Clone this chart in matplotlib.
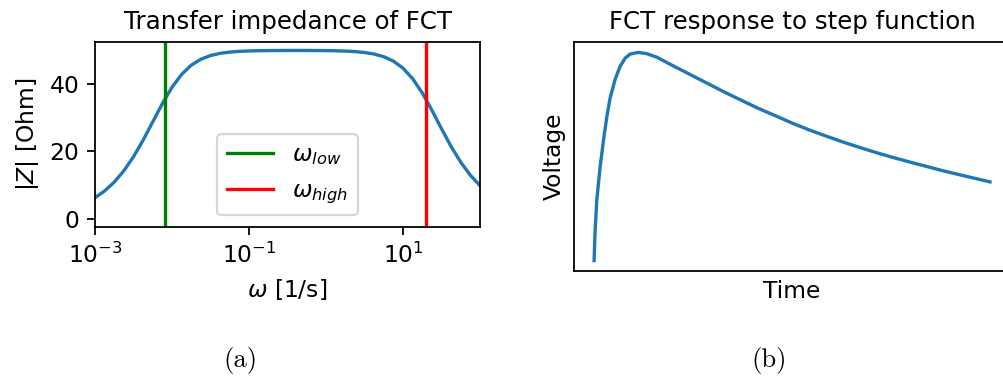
import matplotlib
matplotlib.use("Agg")
import matplotlib.pyplot as plt
from matplotlib.ticker import NullLocator

plt.rcParams['font.size'] = 10.5

# |Z| of the current transformer vs. angular frequency
omega = [0.001, 0.001334, 0.001778, 0.002371, 0.003162, 0.004217, 0.005623,
         0.0075, 0.01, 0.01334, 0.01778, 0.02371, 0.03162, 0.04217, 0.05623,
         0.075, 0.1, 0.1334, 0.1778, 0.3162, 0.5623, 0.75, 1.0, 1.334, 1.778,
         2.371, 3.162, 4.217, 5.623, 7.499, 10.0, 13.34, 17.78, 23.71, 31.62,
         42.17, 56.23, 74.99, 100.0]
z_abs = [6.20, 8.22, 10.85, 14.21, 18.38, 23.32, 28.75,
         34.20, 39.04, 42.88, 45.60, 47.38, 48.47, 49.13, 49.50,
         49.72, 49.84, 49.91, 49.95, 49.98, 49.98, 49.96, 49.94, 49.89, 49.80,
         49.65, 49.39, 48.92, 48.13, 46.82, 44.72, 41.60, 37.37, 32.24, 26.73,
         21.43, 16.76, 12.88, 9.81]
omega_low = 0.008
omega_high = 20.0

# step response (arbitrary units)
t = [0.0, 0.025, 0.068, 0.152, 0.235, 0.321, 0.404, 0.530, 0.657, 0.783,
     0.909, 1.119, 1.331, 1.583, 2.003, 2.424, 2.846, 3.265, 3.687, 4.149,
     4.614, 5.033, 5.455, 5.876, 6.295, 6.717, 7.139, 7.558, 7.980, 8.402,
     8.821, 9.242, 9.664, 10.0]
voltage = [0.0, 0.14, 0.29, 0.45, 0.575, 0.69, 0.78, 0.870, 0.933, 0.972,
           0.992, 1.0, 0.994, 0.977, 0.935, 0.894, 0.853, 0.812, 0.773, 0.731,
           0.693, 0.658, 0.626, 0.597, 0.569, 0.543, 0.518, 0.495, 0.473, 0.452,
           0.431, 0.412, 0.393, 0.378]

fig = plt.figure(figsize=(1003 / 160, 378 / 160), dpi=160)

ax1 = fig.add_axes([95 / 1003, 1 - 227 / 378, 385 / 1003, 185 / 378])
ax1.plot(omega, z_abs, color='#1f77b4', lw=1.5)
ax1.axvline(omega_low, color='green', lw=1.5, label=r'$\omega_{low}$')
ax1.axvline(omega_high, color='red', lw=1.5, label=r'$\omega_{high}$')
ax1.set_xscale('log')
ax1.set_xlim(1e-3, 1e2)
ax1.set_ylim(-2.5, 52.5)
ax1.set_xticks([1e-3, 1e-1, 1e1])
ax1.xaxis.set_minor_locator(NullLocator())
ax1.set_yticks([0, 20, 40])
ax1.set_xlabel(r'$\omega$ [1/s]')
ax1.set_ylabel(r'$|Z|$ [Ohm]')
ax1.set_title('Transfer impedance of FCT', fontsize=11)
ax1.legend(loc='lower center')

ax2 = fig.add_axes([574.3 / 1003, 1 - 271 / 378, 435.5 / 1003, 229 / 378])
ax2.plot(t, voltage, color='#1f77b4', lw=1.5)
ax2.set_xticks([])
ax2.set_yticks([])
ax2.set_xlabel('Time')
ax2.set_ylabel('Voltage')
ax2.set_title('FCT response to step function', fontsize=11)

fig.text(240 / 1003, 1 - 361 / 378, '(a)', family='cmr10', fontsize=12,
         ha='center', va='center')
fig.text(769 / 1003, 1 - 361 / 378, '(b)', family='cmr10', fontsize=12,
         ha='center', va='center')

fig.savefig('out.png', dpi=160)
